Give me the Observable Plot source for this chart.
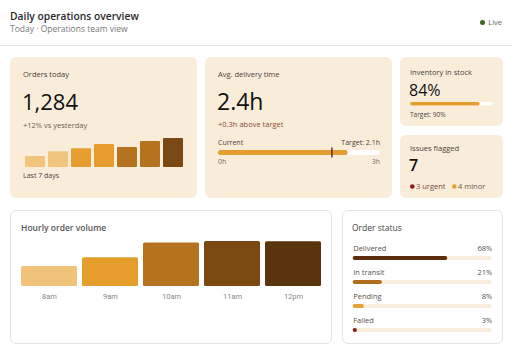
<!DOCTYPE html>
<html><head><meta charset="utf-8">
<script src="https://cdn.jsdelivr.net/npm/d3@7"></script>
<script src="https://cdn.jsdelivr.net/npm/@observablehq/plot@0.6"></script>
<style>
body{margin:0;width:512px;height:355px;background:#fff;font-family:"Open Sans",sans-serif;position:relative;overflow:hidden}
.t{position:absolute;white-space:nowrap;line-height:1}
.card{position:absolute;border-radius:6px;background:#f9edd9}
.wcard{position:absolute;border-radius:6px;background:#fff;border:1px solid #e4e4e4;box-sizing:border-box}
.plot{position:absolute}
.divider{position:absolute;left:0;top:45px;width:512px;height:1px;background:#e6e6e6}
</style></head><body>
<script>
// ---- data ----
const dayLabels = ["Day 1","Day 2","Day 3","Day 4","Day 5","Day 6","Today"];
const dayOrders = [487, 695, 828, 1018, 886, 1146, 1284];
const dayColors = ["#f0c47c","#f0c47c","#e49d2e","#e49d2e","#b5731f","#b5731f","#7a4814"];

const deliveryCurrent = 2.4;
const deliveryTarget = 2.1;
const deliveryMax = 3;

const inventoryPct = 84;
const inventoryTarget = 90;

const issueLabels = ["urgent","minor"];
const issueCounts = [3, 4];
const issueColors = ["#8a1c1c","#e4a030"];
const issueTextColors = ["#7a4538","#6a5a4c"];

const hourLabels = ["8am","9am","10am","11am","12pm"];
const hourVolumes = [134, 192, 290, 300, 298];
const hourColors = ["#f0c27a","#e59d2c","#b5731f","#7b4812","#5a340c"];

const statusLabels = ["Delivered","In transit","Pending","Failed"];
const statusPct = [68, 21, 8, 3];
const statusColors = ["#5c2c0c","#b06e1c","#e6a232","#8a1c1c"];

// ---- helpers ----
const body = document.body;
function box(cls, x, y, w, h){const d=document.createElement("div");d.className=cls;Object.assign(d.style,{left:x+"px",top:y+"px",width:w+"px",height:h+"px"});body.appendChild(d);return d;}
function T(txt, x, base, size, o={}){
  const d=document.createElement("div");d.className="t";d.textContent=txt;
  d.style.fontSize=size+"px";d.style.top=(base-0.888*size)+"px";
  if(o.right) d.style.right=(512-x)+"px"; else d.style.left=x+"px";
  d.style.color=o.color||"#4a4039";d.style.fontWeight=o.weight||400;
  body.appendChild(d);return d;
}
function place(svg,x,y){const w=document.createElement("div");w.className="plot";w.style.left=x+"px";w.style.top=y+"px";w.appendChild(svg);body.appendChild(w);}

// ---- header ----
T("Daily operations overview",10,20,10.3,{weight:600,color:"#2a2a2a"});
T("Today \u00b7 Operations team view",10,32.5,8.5,{color:"#777"});
T("Live",502,25.5,7.5,{right:true,color:"#666"});
const dot=document.createElement("div");Object.assign(dot.style,{position:"absolute",left:"480px",top:"20px",width:"5px",height:"5px",borderRadius:"50%",background:"#3b6520"});body.appendChild(dot);
const dv=document.createElement("div");dv.className="divider";body.appendChild(dv);

// ---- cards ----
box("card",10,57,187,141);
box("card",205,57,187,141);
box("card",400,57,103,69);
box("card",400,135,103,63);
box("wcard",10,210,322,134);
box("wcard",342,210,161,134);

// card 1
T("Orders today",23,77.3,7.5);
T("1,284",22,110,22,{weight:500,color:"#111"});
T("+12% vs yesterday",23,128.5,7.5,{color:"#6e5d50"});
T("Last 7 days",23,178.3,7,{color:"#4a4039"});
const days = dayLabels.map((d,i)=>({day:d,orders:dayOrders[i],color:dayColors[i]}));
place(Plot.plot({width:161,height:37,marginTop:8,marginBottom:0,marginLeft:0,marginRight:0,
  x:{domain:dayLabels,paddingInner:0.15,paddingOuter:0,axis:null},
  y:{domain:[0,d3.max(dayOrders)],axis:null},
  color:{type:"identity"},
  marks:[Plot.barY(days,{x:"day",y:"orders",fill:"color",rx:1})]}),23,130);

// card 2
T("Avg. delivery time",218,77.3,7.5);
T("2.4h",217,110,23,{weight:500,color:"#111"});
T("+0.3h above target",218,127.3,7.5,{color:"#8a4a3a"});
T("Current",218,145,7,{color:"#4a4039"});
T("Target: "+deliveryTarget+"h",380,145,7,{right:true,color:"#4a4039"});
T("0h",218,164.5,7,{color:"#7a6d62"});
T(deliveryMax+"h",380,164.5,7,{right:true,color:"#7a6d62"});
place(Plot.plot({width:162,height:14,margin:0,
  x:{domain:[0,deliveryMax],axis:null},
  marks:[
    Plot.barX([{v:deliveryMax}],{x1:0,x2:"v",fill:"#ffffff",insetTop:5,insetBottom:4,rx:2.5}),
    Plot.barX([{v:deliveryCurrent}],{x1:0,x2:"v",fill:"#e39e2f",insetTop:5,insetBottom:4,rx:2.5}),
    Plot.ruleX([deliveryTarget],{stroke:"#5a1410",strokeWidth:1.3,insetTop:2.5,insetBottom:1.5})
  ]}),218,145);

// card 3a
T("Inventory in stock",410,75.7,7.5);
T(inventoryPct+"%",409,96,16,{weight:500,color:"#111"});
T("Target: "+inventoryTarget+"%",410,117.3,6.5,{color:"#4a4039"});
place(Plot.plot({width:83,height:8,margin:0,
  x:{domain:[0,100],axis:null},
  marks:[
    Plot.barX([{v:100}],{x1:0,x2:"v",fill:"#ffffff",insetTop:2,insetBottom:2.5,rx:1.7}),
    Plot.barX([{v:inventoryPct}],{x1:0,x2:"v",fill:"#e39e2f",insetTop:2,insetBottom:2.5,rx:1.7})
  ]}),410,100);

// card 3b
T("Issues flagged",410,152,7.5);
T(String(d3.sum(issueCounts)),409,171,16,{weight:600,color:"#111"});
const issues = issueLabels.map((l,i)=>({label:issueCounts[i]+" "+l,color:issueColors[i],tc:issueTextColors[i],x:[0,42][i]}));
place(Plot.plot({width:92,height:12,margin:0,
  x:{domain:[0,92],axis:null},
  color:{type:"identity"},
  style:{fontFamily:"Open Sans",fontSize:"7.5px"},
  marks:[
    Plot.dot(issues,{x:"x",frameAnchor:"middle",fill:"color",r:2.3,dx:1.8}),
    Plot.text(issues,{x:"x",text:"label",frameAnchor:"middle",textAnchor:"start",dx:5.5,fill:"tc"})
  ]}),410,180);

// card 4
T("Hourly order volume",21,231.5,8.5,{weight:600,color:"#555"});
const hours = hourLabels.map((h,i)=>({hour:h,v:hourVolumes[i],color:hourColors[i]}));
place(Plot.plot({width:332,height:70,marginLeft:20.7,marginRight:10.3,marginTop:5,marginBottom:20,
  x:{domain:hourLabels,paddingInner:0.085,paddingOuter:0,tickSize:0,tickPadding:7,label:null},
  y:{domain:[0,d3.max(hourVolumes)],axis:null},
  color:{type:"identity"},
  style:{fontFamily:"Roboto",fontSize:"7.5px",color:"#888"},
  marks:[Plot.barY(hours,{x:"hour",y:"v",fill:"color",rx:1.5})]}),0,236);

// card 5
T("Order status",352,231.7,8.5,{weight:500,color:"#444"});
const status = statusLabels.map((s,i)=>({name:s,pct:statusPct[i],color:statusColors[i]}));
place(Plot.plot({width:161,height:104,marginLeft:10.7,marginRight:11.3,marginTop:5,marginBottom:1.5,
  x:{domain:[0,100],axis:null},
  y:{domain:statusLabels,padding:0,axis:null},
  color:{type:"identity"},
  style:{fontFamily:"Open Sans",fontSize:"7.5px"},
  marks:[
    Plot.barX(status,{x1:0,x2:100,y:"name",fill:"#f9eedb",insetTop:10,insetBottom:10,rx:2}),
    Plot.barX(status,{x1:0,x2:"pct",y:"name",fill:"color",insetTop:10,insetBottom:10,rx:2}),
    Plot.text(status,{x:0,y:"name",text:"name",textAnchor:"start",dy:-10,fill:"#5a5047"}),
    Plot.text(status,{x:100,y:"name",text:d=>d.pct+"%",textAnchor:"end",dy:-10,fill:"#5a5047"})
  ]}),342,240);
</script>
</body></html>
